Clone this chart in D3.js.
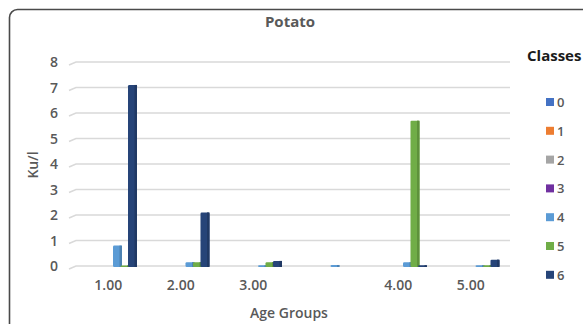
<!DOCTYPE html>
<html><head><meta charset="utf-8">
<script src="https://cdn.jsdelivr.net/npm/d3@7"></script>
<style>body{margin:0;background:#fff}svg{display:block}</style>
</head><body>
<svg id="c" width="583" height="324"></svg>
<script>
const groups = ["1.00","2.00","3.00","","4.00","5.00"];
const classes = ["0","1","2","3","4","5","6"];
const class0 = [0,0,0,0,0,0];
const class1 = [0,0,0,0,0,0];
const class2 = [0,0,0,0,0,0];
const class3 = [0,0,0,0,0,0];
const class4 = [0.8,0.15,0.03,0.04,0.15,0.03];
const class5 = [0.02,0.15,0.15,0,5.7,0.03];
const class6 = [7.1,2.1,0.2,0,0.03,0.25];
const yTicks = [0,1,2,3,4,5,6,7,8];
const colors = ["#4472C4","#ED7D31","#A5A5A5","#7030A0","#5B9BD5","#70AD47","#264478"];
const series = [class0,class1,class2,class3,class4,class5,class6];

const svg = d3.select("#c");
const font = "'Open Sans', 'Liberation Sans', sans-serif";

svg.append("rect").attr("x",9.5).attr("y",9.5).attr("width",620).attr("height",340)
  .attr("rx",8).attr("fill","#fff").attr("stroke","#4a4a4a").attr("stroke-width",1.6);

const x0 = d3.scaleBand().domain(d3.range(groups.length)).range([72,507]);
const x1 = d3.scaleBand().domain(d3.range(classes.length)).range([0,52.5]);
const y = d3.scaleLinear().domain([0,8]).range([266,62]);

// gridlines
const g = svg.append("g");
yTicks.forEach(t=>{
  const yy = y(t);
  g.append("path").attr("d",`M69,${yy+3}L76,${yy}L510,${yy}`)
    .attr("fill","none").attr("stroke","#d9d9d9").attr("stroke-width",1.5);
});
// y labels
svg.append("g").selectAll("text").data(yTicks).join("text")
  .attr("x",58).attr("y",d=>y(d)+5).attr("text-anchor","end")
  .attr("font-family",font).attr("font-size",14).attr("font-weight",600).attr("fill","#595959")
  .text(d=>d);

// bars
const bw = 9;
const shift = 1;
series.forEach((vals,si)=>{
  vals.forEach((v,gi)=>{
    if(v<=0) return;
    const cx = x0(gi) + x0.bandwidth()/2 - 26.25 + x1(si) + shift;
    const top = y(v), bot = y(0)+1;
    const col = d3.color(colors[si]);
    svg.append("rect").attr("x",cx).attr("y",top).attr("width",bw).attr("height",Math.max(bot-top,1.5))
      .attr("fill",colors[si]).attr("rx",1.2);
    svg.append("rect").attr("x",cx+bw-2.5).attr("y",top).attr("width",2.5).attr("height",Math.max(bot-top,1.5))
      .attr("fill",col.darker(0.5));
  });
});

// x labels
svg.append("g").selectAll("text").data(groups).join("text")
  .attr("x",(d,i)=>x0(i)+x0.bandwidth()/2).attr("y",290).attr("text-anchor","middle")
  .attr("font-family",font).attr("font-size",14).attr("font-weight",600).attr("fill","#595959")
  .text(d=>d);

// titles
svg.append("text").attr("x",290).attr("y",27).attr("text-anchor","middle")
  .attr("font-family",font).attr("font-size",15).attr("font-weight",700).attr("fill","#595959").text("Potato");
svg.append("text").attr("x",289).attr("y",318).attr("text-anchor","middle")
  .attr("font-family",font).attr("font-size",14).attr("font-weight",600).attr("fill","#595959").text("Age Groups");
svg.append("text").attr("transform","translate(38,165) rotate(-90)").attr("text-anchor","middle")
  .attr("font-family",font).attr("font-size",14).attr("font-weight",600).attr("fill","#595959").text("Ku/l");

// legend
svg.append("text").attr("x",527).attr("y",61)
  .attr("font-family",font).attr("font-size",15).attr("font-weight",700).attr("fill","#1a1a1a").text("Classes");
const leg = svg.append("g").selectAll("g").data(classes).join("g")
  .attr("transform",(d,i)=>`translate(546,${102+i*28.8})`);
leg.append("rect").attr("x",0).attr("y",-4).attr("width",8).attr("height",8).attr("fill",(d,i)=>colors[i]);
leg.append("text").attr("x",11).attr("y",5)
  .attr("font-family",font).attr("font-size",13).attr("font-weight",600).attr("fill","#595959").text(d=>d);
</script>
</body></html>
